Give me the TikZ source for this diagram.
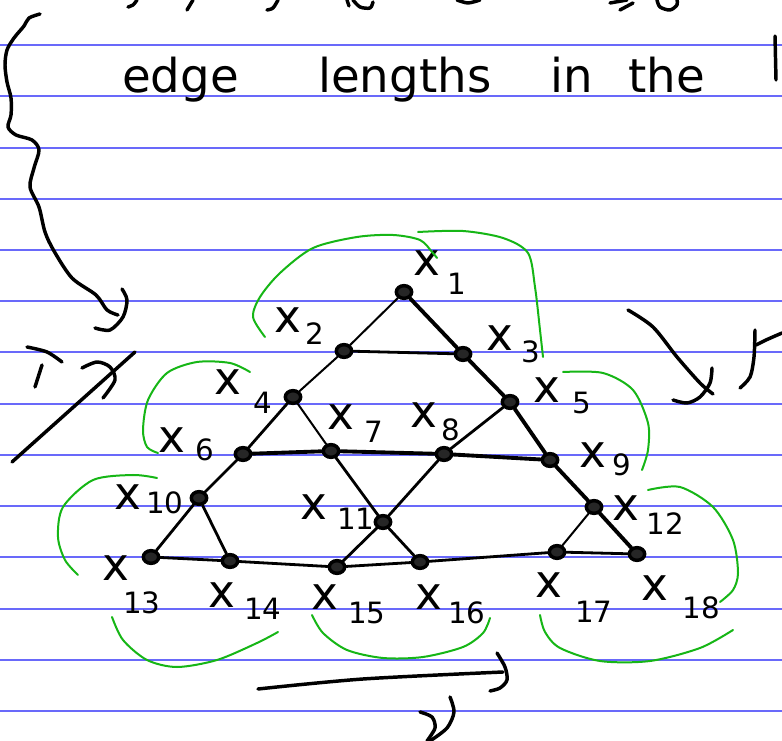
\documentclass[tikz,border=0pt]{standalone}
\usepackage{fontspec}
\setmainfont{DejaVu Sans}
\usepackage{tikz}
\usetikzlibrary{positioning,shapes.geometric}
\definecolor{ruleblue}{RGB}{105,105,250}
\definecolor{pengreen}{RGB}{22,182,22}
\tikzset{
  ruleline/.style={draw=ruleblue, line width=1.2pt},
  pen/.style={line width=2.6pt, line cap=round, line join=round},
  edgethin/.style={line width=1.5pt, line cap=round},
  edgemid/.style={line width=2.1pt, line cap=round},
  edgethick/.style={line width=2.9pt, line cap=round},
  greenpen/.style={draw=pengreen, line width=1.5pt, line cap=round},
  vertexdot/.style={draw, ellipse, line width=2.6pt, fill=black!85, minimum width=11.5pt, minimum height=9.5pt, inner sep=0pt},
  varcross/.style={font=\fontsize{34}{34}\selectfont, inner sep=0pt},
  varidx/.style={font=\fontsize{22}{22}\selectfont, inner sep=0pt},
  handword/.style={font=\fontsize{35}{40}\selectfont, inner sep=0pt, anchor=base west}
}

\begin{document}
\begin{tikzpicture}[x=0.75pt, y=-0.75pt]
  \useasboundingbox (0,0) rectangle (782,741);
  \clip (0,0) rectangle (782,741);
  \fill[white] (0,0) rectangle (782,741);
  % ruled paper
  \foreach \ry in {45,96,148,199,250,301,352,404,455,506,557,609,660,711}
    \draw[ruleline] (0,\ry) -- (782,\ry);

  % line above, cut off
  \draw[pen] plot[smooth] coordinates {(137,0) (133,5) (128,7)};
  \draw[pen] plot[smooth] coordinates {(193,0) (187,10)};
  \draw[pen] plot[smooth] coordinates {(278,0) (273,8) (267,10)};
  \draw[pen] plot[smooth] coordinates {(347,0) (349,6)};
  \draw[pen] plot[smooth] coordinates {(353,0) (360,7) (370,8) (373,2)};
  \draw[pen] plot[smooth] coordinates {(457,0) (468,3) (480,0)};
  \draw[pen] plot[smooth] coordinates {(610,3) (627,0)};
  \draw[pen] plot[smooth] coordinates {(620,10) (633,3)};
  \draw[pen] plot[smooth] coordinates {(657,0) (660,7) (670,10) (677,5) (677,0)};

  \node[handword] (w1) at (122,93) {edge};
  \node[handword] (w2) at (318,93) {lengths};
  \node[handword] (w3) at (550,93) {in};
  \node[handword] (w4) at (628,93) {the};
  \draw[pen] (775,36) -- (776,80);

  % wavy arrow on the left
  \draw[pen] plot[smooth] coordinates {(40,14) (29,18) (24,26) (14,38) (7,50) (5,65) (7,82) (11,98) (11,115) (8,127) (16,135) (32,140) (39,150) (34,168) (30,187) (39,207) (45,232) (54,251) (72,278) (96,295) (107,310) (118,315)};
  \draw[pen] plot[smooth] coordinates {(122,289) (127,300) (123,317) (110,330) (95,328)};

  % marks on the left
  \draw[pen] plot[smooth] coordinates {(27,347) (47,352) (62,362)};
  \draw[pen] (42,365) -- (35,387);
  \draw[pen] plot[smooth] coordinates {(82,368) (97,362) (110,367) (115,380) (103,398)};
  \draw[pen] (135,352) -- (12,462);

  % marks on the right
  \draw[pen] plot[smooth] coordinates {(628,310) (653,327) (677,357) (700,383) (713,394)};
  \draw[pen] plot[smooth] coordinates {(712,368) (710,383) (700,397) (687,403) (673,400)};
  \draw[pen] plot[smooth] coordinates {(740,388) (750,377) (754,357) (755,330)};
  \draw[pen] plot[smooth] coordinates {(756,345) (766,340) (782,333)};

  % arrow at the bottom
  \draw[pen] plot[smooth] coordinates {(258,689) (363,679) (503,672)};
  \draw[pen] plot[smooth] coordinates {(497,653) (505,667) (507,680) (500,688) (490,691)};
  \draw[pen] plot[smooth] coordinates {(420,712) (432,717) (435,728) (427,741)};
  \draw[pen] plot[smooth] coordinates {(450,697) (454,712) (447,728) (430,741)};

  % vertices
  \node[vertexdot] (v1) at (404,292) {};
  \node[vertexdot] (v2) at (344,351) {};
  \node[vertexdot] (v3) at (463,354) {};
  \node[vertexdot] (v4) at (293,397) {};
  \node[vertexdot] (v5) at (510,402) {};
  \node[vertexdot] (v6) at (243,454) {};
  \node[vertexdot] (v7) at (331,451) {};
  \node[vertexdot] (v8) at (444,454) {};
  \node[vertexdot] (v9) at (550,460) {};
  \node[vertexdot] (v10) at (199,498) {};
  \node[vertexdot] (v11) at (383,522) {};
  \node[vertexdot] (v12) at (594,507) {};
  \node[vertexdot] (v13) at (151,557) {};
  \node[vertexdot] (v14) at (230,561) {};
  \node[vertexdot] (v15) at (337,567) {};
  \node[vertexdot] (v16) at (420,562) {};
  \node[vertexdot] (v17) at (557,552) {};
  \node[vertexdot] (v18) at (637,554) {};

  % edges
  \draw[edgethin] (v1) -- (v2);
  \draw[edgethick] (v1) -- (v3);
  \draw[edgemid] (v2) -- (v3);
  \draw[edgethin] (v2) -- (v4);
  \draw[edgethick] (v3) -- (v5);
  \draw[edgemid] (v4) -- (v6);
  \draw[edgethin] (v4) -- (v7);
  \draw[edgemid] (v5) -- (v8);
  \draw[edgethick] (v5) -- (v9);
  \draw[edgethick] (v6) -- (v7);
  \draw[edgethick] (v7) -- (v8);
  \draw[edgethick] (v8) -- (v9);
  \draw[edgemid] (v6) -- (v10);
  \draw[edgemid] (v7) -- (v11);
  \draw[edgemid] (v8) -- (v11);
  \draw[edgethick] (v9) -- (v12);
  \draw[edgemid] (v10) -- (v13);
  \draw[edgemid] (v10) -- (v14);
  \draw[edgemid] (v11) -- (v15);
  \draw[edgemid] (v11) -- (v16);
  \draw[edgethin] (v12) -- (v17);
  \draw[edgethick] (v12) -- (v18);
  \draw[edgemid] (v13) -- (v14);
  \draw[edgemid] (v14) -- (v15);
  \draw[edgemid] (v15) -- (v16);
  \draw[edgemid] (v16) -- (v17);
  \draw[edgemid] (v17) -- (v18);

  % variable labels
  \node[varcross] (c1) at (427,263) {x};  \node[varidx] (n1) at (457,284) {1};
  \node[varcross] (c2) at (288,320) {x};  \node[varidx] (n2) at (315,334) {2};
  \node[varcross] (c3) at (500,338) {x};  \node[varidx] (n3) at (531,352) {3};
  \node[varcross] (c4) at (228,382) {x};  \node[varidx] (n4) at (263,403) {4};
  \node[varcross] (c5) at (547,390) {x};  \node[varidx] (n5) at (582,403) {5};
  \node[varcross] (c6) at (172,440) {x};  \node[varidx] (n6) at (205,450) {6};
  \node[varcross] (c7) at (341,417) {x};  \node[varidx] (n7) at (374,432) {7};
  \node[varcross] (c8) at (424,415) {x};  \node[varidx] (n8) at (451,430) {8};
  \node[varcross] (c9) at (593,455) {x};  \node[varidx] (n9) at (622,465) {9};
  \node[varcross] (c10) at (128,497) {x}; \node[varidx] (n10) at (165,503) {10};
  \node[varcross] (c11) at (314,507) {x}; \node[varidx] (n11) at (356,519) {11};
  \node[varcross] (c12) at (626,508) {x}; \node[varidx] (n12) at (665,524) {12};
  \node[varcross] (c13) at (116,568) {x}; \node[varidx] (n13) at (142,603) {13};
  \node[varcross] (c14) at (222,595) {x}; \node[varidx] (n14) at (263,609) {14};
  \node[varcross] (c15) at (325,597) {x}; \node[varidx] (n15) at (367,613) {15};
  \node[varcross] (c16) at (429,597) {x}; \node[varidx] (n16) at (467,613) {16};
  \node[varcross] (c17) at (549,585) {x}; \node[varidx] (n17) at (594,612) {17};
  \node[varcross] (c18) at (655,588) {x}; \node[varidx] (n18) at (701,608) {18};

  % green groupings
  \draw[greenpen] plot[smooth] coordinates {(265,337) (253,317) (260,297) (280,273) (313,248) (357,237) (393,235) (420,240) (432,252) (437,258)};
  \draw[greenpen] plot[smooth] coordinates {(418,232) (463,231) (503,238) (528,253) (535,287) (540,330) (543,357)};
  \draw[greenpen] plot[smooth] coordinates {(250,372) (230,363) (197,362) (167,373) (148,400) (143,430) (147,447) (158,453)};
  \draw[greenpen] plot[smooth] coordinates {(563,372) (603,373) (633,390) (648,423) (648,450) (642,470)};
  \draw[greenpen] plot[smooth] coordinates {(157,478) (133,475) (93,480) (63,507) (58,537) (65,560) (78,575)};
  \draw[greenpen] plot[smooth] coordinates {(648,490) (680,487) (713,507) (733,540) (738,573) (733,590) (720,602)};
  \draw[greenpen] plot[smooth] coordinates {(112,617) (123,640) (147,660) (177,667) (217,660) (257,643) (278,632)};
  \draw[greenpen] plot[smooth] coordinates {(312,615) (323,633) (347,650) (383,658) (423,657) (463,647) (483,633) (490,618)};
  \draw[greenpen] plot[smooth] coordinates {(540,615) (545,632) (560,648) (600,661) (650,661) (700,648) (733,630)};
\end{tikzpicture}
\end{document}
